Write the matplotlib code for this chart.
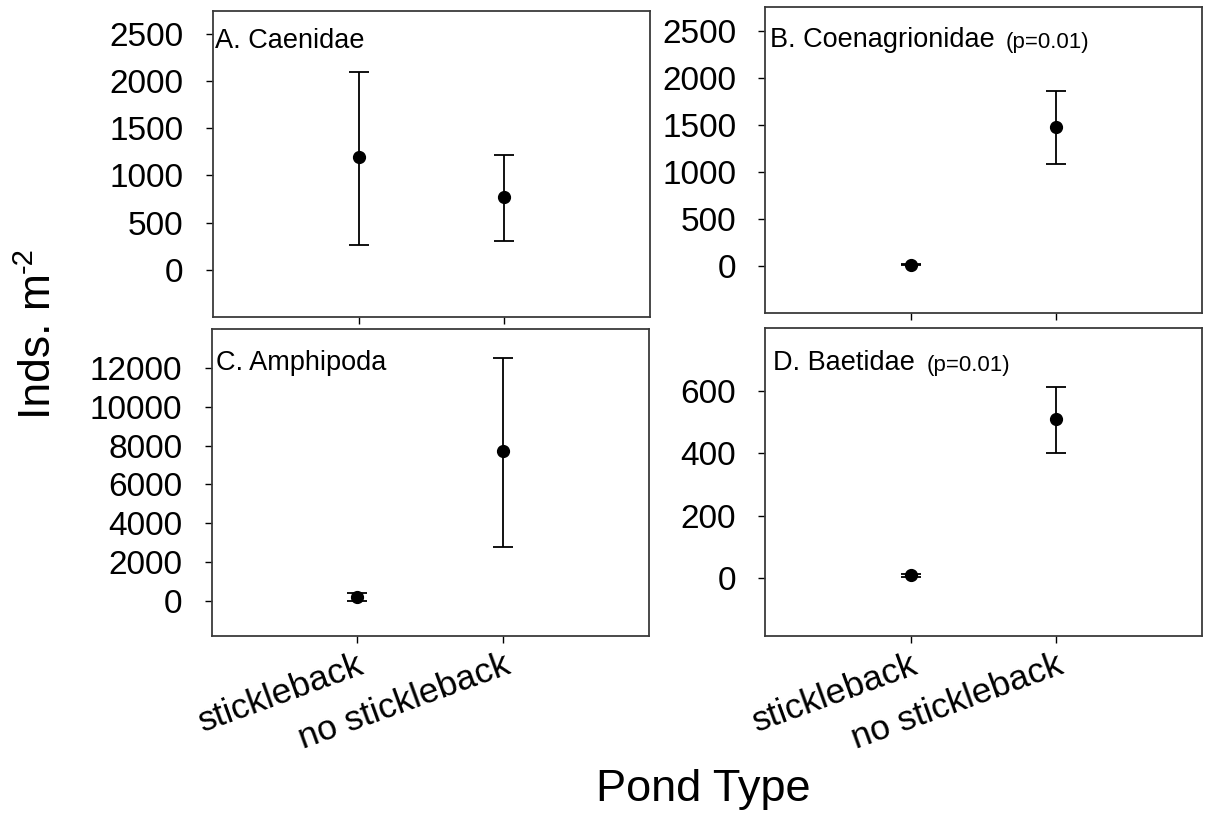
import numpy as np
import matplotlib
matplotlib.use("Agg")
import matplotlib.pyplot as plt

plt.rcParams['font.family'] = ['Liberation Sans', 'DejaVu Sans']

# ---- data ----
pond_types = ["stickleback", "no stickleback"]
panel_names = ["A. Caenidae", "B. Coenagrionidae", "C. Amphipoda", "D. Baetidae"]
p_notes = ["", "(p=0.01)", "", "(p=0.01)"]

mean_vals = [[1200, 770], [18, 1480], [205, 7700], [8, 510]]
err_low = [[935, 470], [10, 395], [210, 4900], [6, 110]]
err_high = [[895, 446], [10, 384], [205, 4800], [6, 103]]

ylims = [(-500, 2750), (-500, 2750), (-1800, 14000), (-185, 800)]
yticks = [np.arange(0, 2501, 500), np.arange(0, 2501, 500),
          np.arange(0, 12001, 2000), np.arange(0, 601, 200)]

# axes rectangles in figure fraction [left, bottom, width, height]
rects = [[0.1764, 0.6143, 0.3626, 0.3727],
         [0.6346, 0.6184, 0.3619, 0.3727],
         [0.1755, 0.2253, 0.3626, 0.3740],
         [0.6346, 0.2257, 0.3619, 0.3744]]
label_pos = [(0.005, 0.878), (0.011, 0.871), (0.011, 0.866), (0.018, 0.864)]

fig = plt.figure(figsize=(12.06, 8.21), dpi=100)

for i in range(4):
    ax = fig.add_axes(rects[i])
    x = np.arange(1, len(pond_types) + 1)
    ax.errorbar(x, mean_vals[i], yerr=[err_low[i], err_high[i]], fmt='o',
                color='black', markersize=8.5, elinewidth=1.3, capsize=7,
                capthick=1.3)
    ax.set_xlim(0, 3)
    ax.set_ylim(*ylims[i])
    ax.set_yticks(yticks[i])
    ax.set_yticklabels([str(v) for v in yticks[i]])
    ax.set_xticks(x)
    if i >= 2:
        ax.set_xticklabels(pond_types, rotation=20, ha='right', va='top',
                           rotation_mode='anchor', fontsize=25.5)
    else:
        ax.set_xticklabels([])
    ax.tick_params(axis='y', labelsize=24, length=5, width=1, pad=16)
    ax.tick_params(axis='x', length=5, width=1, pad=4)
    for s in ax.spines.values():
        s.set_color('#3a3a3a')
        s.set_linewidth(1.3)

    t = ax.text(label_pos[i][0], label_pos[i][1], panel_names[i],
                transform=ax.transAxes, fontsize=19.5, va='baseline', ha='left')
    if p_notes[i]:
        ax.annotate(p_notes[i], xy=(1, 0), xycoords=t, xytext=(8, 0),
                    textcoords='offset points', fontsize=16,
                    va='bottom', ha='left')

fig.text(0.032, 0.49, "Inds. m", rotation=90, fontsize=32,
         ha='center', va='bottom')
fig.text(0.02, 0.668, "-2", rotation=90, fontsize=21, ha='center', va='bottom')
fig.text(0.583, 0.038, "Pond Type", fontsize=32.5, ha='center', va='center')

fig.savefig("out.png", dpi=100)
